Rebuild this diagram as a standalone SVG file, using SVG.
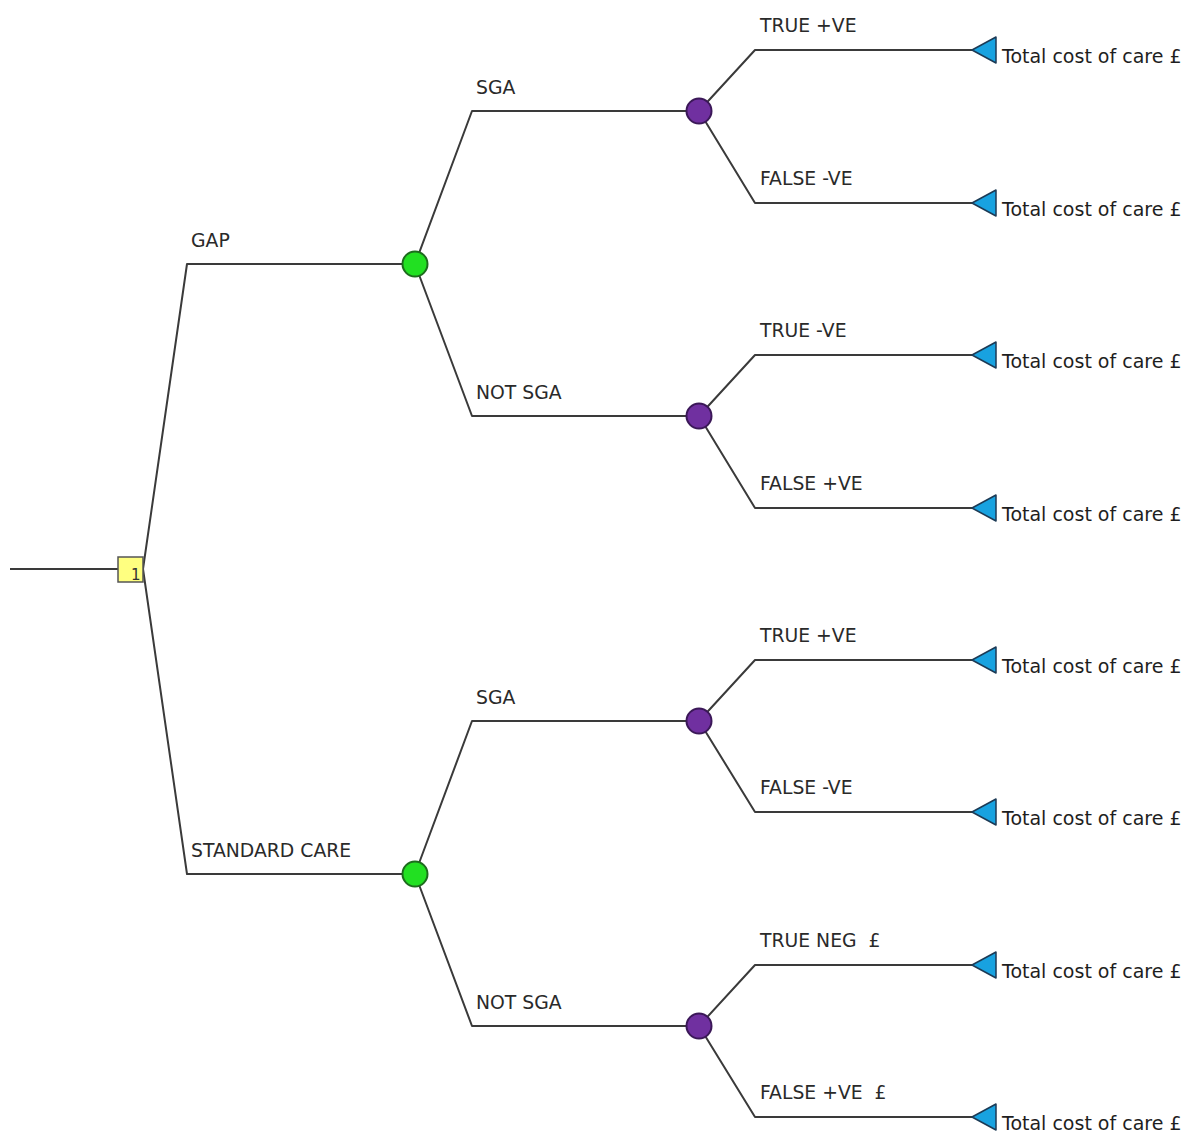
<svg xmlns="http://www.w3.org/2000/svg" width="1195" height="1136" viewBox="0 0 1195 1136">
<style>
.ln{fill:none;stroke:#3a3a3a;stroke-width:2;stroke-linejoin:round}
.lbl{font-family:"DejaVu Sans",Verdana,sans-serif;font-size:18.8px;fill:#2a2a2a;white-space:pre}
.out{font-family:"DejaVu Sans",Verdana,sans-serif;font-size:19px;fill:#1e1e1e}
.chA{fill:#22e022;stroke:#1d6b1d;stroke-width:2}
.chB{fill:#7030a0;stroke:#3b1858;stroke-width:2}
.term{fill:#18a2e0;stroke:#1c3a55;stroke-width:1.5;stroke-linejoin:round}
.dec{fill:#ffff80;stroke:#555;stroke-width:1.5}
</style>
<g id="connectors">
<path class="ln" d="M10,569 H118"/>
<path class="ln" d="M143,569 L187,264 H415"/>
<path class="ln" d="M143,569 L187,874 H415"/>
<path class="ln" d="M415,264 L472,111 H699"/>
<path class="ln" d="M415,264 L472,416 H699"/>
<path class="ln" d="M415,874 L472,721 H699"/>
<path class="ln" d="M415,874 L472,1026 H699"/>
<path class="ln" d="M699,111 L755,50 H972"/>
<path class="ln" d="M699,111 L755,203 H972"/>
<path class="ln" d="M699,416 L755,355 H972"/>
<path class="ln" d="M699,416 L755,508 H972"/>
<path class="ln" d="M699,721 L755,660 H972"/>
<path class="ln" d="M699,721 L755,812 H972"/>
<path class="ln" d="M699,1026 L755,965 H972"/>
<path class="ln" d="M699,1026 L755,1117 H972"/>
</g>
<g id="labels">
<text class="lbl" x="191" y="247">GAP</text>
<text class="lbl" x="191" y="857">STANDARD CARE</text>
<text class="lbl" x="476" y="94">SGA</text>
<text class="lbl" x="476" y="399">NOT SGA</text>
<text class="lbl" x="476" y="704">SGA</text>
<text class="lbl" x="476" y="1009">NOT SGA</text>
<text class="lbl" x="760" y="32">TRUE +VE</text>
<text class="lbl" x="760" y="185">FALSE -VE</text>
<text class="lbl" x="760" y="337">TRUE -VE</text>
<text class="lbl" x="760" y="490">FALSE +VE</text>
<text class="lbl" x="760" y="642">TRUE +VE</text>
<text class="lbl" x="760" y="794">FALSE -VE</text>
<text class="lbl" x="760" y="947" xml:space="preserve">TRUE NEG  £</text>
<text class="lbl" x="760" y="1099" xml:space="preserve">FALSE +VE  £</text>
</g>
<g id="decision">
<rect class="dec" x="118" y="557" width="25" height="25"/>
<text x="131" y="580" style="font-family:'DejaVu Sans',sans-serif;font-size:15px;fill:#333">1</text>
</g>
<g id="chance-gap"><circle class="chA" cx="415" cy="264" r="12.5"/></g>
<g id="chance-std"><circle class="chA" cx="415" cy="874" r="12.5"/></g>
<g id="chance-gap-sga"><circle class="chB" cx="699" cy="111" r="12.5"/></g>
<g id="chance-gap-notsga"><circle class="chB" cx="699" cy="416" r="12.5"/></g>
<g id="chance-std-sga"><circle class="chB" cx="699" cy="721" r="12.5"/></g>
<g id="chance-std-notsga"><circle class="chB" cx="699" cy="1026" r="12.5"/></g>
<g id="t1"><polygon class="term" points="972,50 996,37 996,63"/><text class="out" x="1002" y="63">Total cost of care £</text></g>
<g id="t2"><polygon class="term" points="972,203 996,190 996,216"/><text class="out" x="1002" y="216">Total cost of care £</text></g>
<g id="t3"><polygon class="term" points="972,355 996,342 996,368"/><text class="out" x="1002" y="368">Total cost of care £</text></g>
<g id="t4"><polygon class="term" points="972,508 996,495 996,521"/><text class="out" x="1002" y="521">Total cost of care £</text></g>
<g id="t5"><polygon class="term" points="972,660 996,647 996,673"/><text class="out" x="1002" y="673">Total cost of care £</text></g>
<g id="t6"><polygon class="term" points="972,812 996,799 996,825"/><text class="out" x="1002" y="825">Total cost of care £</text></g>
<g id="t7"><polygon class="term" points="972,965 996,952 996,978"/><text class="out" x="1002" y="978">Total cost of care £</text></g>
<g id="t8"><polygon class="term" points="972,1117 996,1104 996,1130"/><text class="out" x="1002" y="1130">Total cost of care £</text></g>
</svg>
